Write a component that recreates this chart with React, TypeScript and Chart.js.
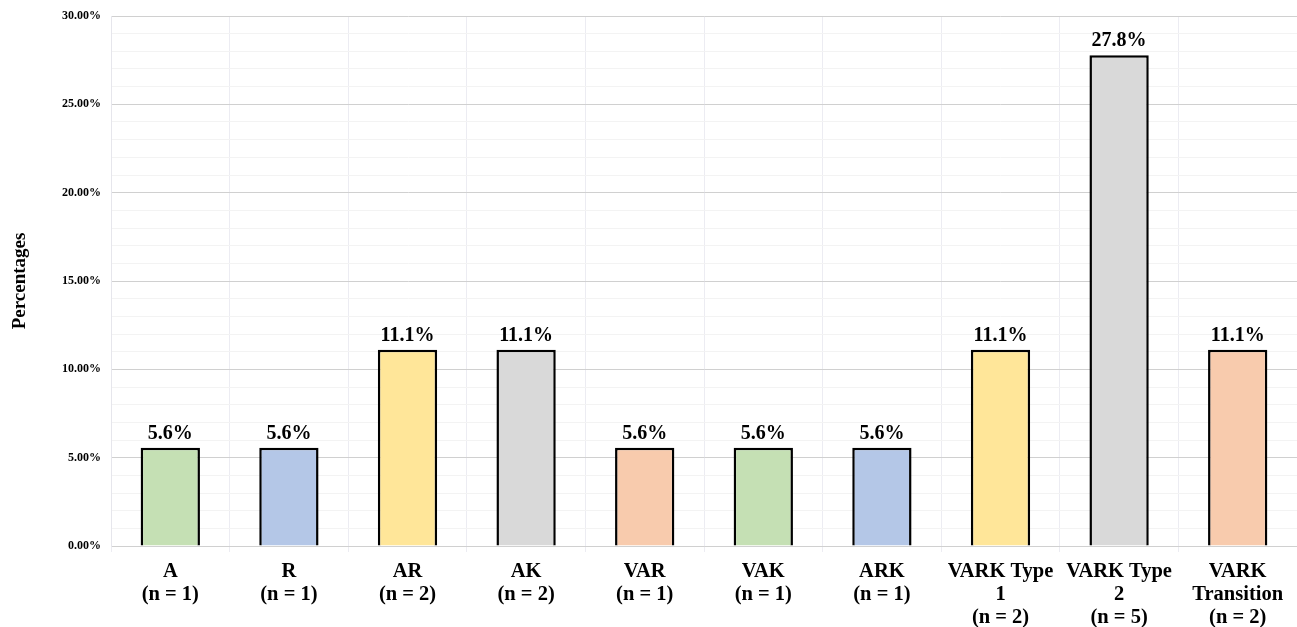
import React, { useEffect, useRef } from "react";
import { Chart, registerables } from "chart.js";

Chart.register(...registerables);

const categories: string[][] = [
  ["A", "(n = 1)"],
  ["R", "(n = 1)"],
  ["AR", "(n = 2)"],
  ["AK", "(n = 2)"],
  ["VAR", "(n = 1)"],
  ["VAK", "(n = 1)"],
  ["ARK", "(n = 1)"],
  ["VARK Type", "1", "(n = 2)"],
  ["VARK Type", "2", "(n = 5)"],
  ["VARK", "Transition", "(n = 2)"],
];
const values: number[] = [5.56, 5.56, 11.11, 11.11, 5.56, 5.56, 5.56, 11.11, 27.78, 11.11];
const barColors: string[] = [
  "#c5e0b4", "#b4c7e7", "#ffe699", "#d9d9d9", "#f8cbad",
  "#c5e0b4", "#b4c7e7", "#ffe699", "#d9d9d9", "#f8cbad",
];
const yTitle = "Percentages";

const FONT = "'Liberation Serif', 'Times New Roman', serif";

const valueLabelPlugin = {
  id: "valueLabels",
  afterDatasetsDraw(chart: any) {
    const ctx = chart.ctx;
    const meta = chart.getDatasetMeta(0);
    ctx.save();
    ctx.font = `bold 20px ${FONT}`;
    ctx.fillStyle = "#000";
    ctx.textAlign = "center";
    ctx.textBaseline = "bottom";
    meta.data.forEach((el: any, i: number) => {
      ctx.fillText(values[i].toFixed(1) + "%", el.x, el.y - 4);
    });
    ctx.restore();
  },
};

export default function App() {
  const ref = useRef<HTMLCanvasElement>(null);
  useEffect(() => {
    if (!ref.current) return;
    const chart = new Chart(ref.current, {
      type: "bar",
      data: {
        labels: categories,
        datasets: [
          {
            data: values,
            backgroundColor: barColors,
            borderColor: "#000",
            borderWidth: 2.5,
            categoryPercentage: 1,
            barPercentage: 0.5,
          },
        ],
      },
      options: {
        animation: false,
        responsive: true,
        maintainAspectRatio: false,
        layout: { padding: { top: 8, right: 0, left: 0, bottom: 0 } },
        plugins: { legend: { display: false }, tooltip: { enabled: false } },
        scales: {
          x: {
            grid: { color: "#ececf2", tickLength: 6, offset: true },
            border: { color: "#d0d0d0" },
            ticks: {
              color: "#000",
              font: { family: FONT, size: 20.5, weight: "bold", lineHeight: 1.12 },
              padding: 8,
              maxRotation: 0,
              autoSkip: false,
            },
            afterFit(scale: any) {
              scale.height = 81;
            },
          },
          y: {
            min: 0,
            max: 30,
            grid: {
              drawTicks: false,
              color: (c: any) => (c.tick && c.tick.value % 5 === 0 ? "#d0d0d0" : "#f3f3f3"),
            },
            border: { color: "#e6e6ec" },
            ticks: {
              stepSize: 1,
              autoSkip: false,
              color: "#000",
              padding: 10,
              font: { family: FONT, size: 12, weight: "bold", lineHeight: 1 },
              callback: (v: any) => (Number(v) % 5 === 0 ? Number(v).toFixed(2) + "%" : ""),
            },
            title: {
              display: true,
              text: yTitle,
              color: "#000",
              font: { family: FONT, size: 19, weight: "bold" },
              padding: { top: 9, bottom: 10 },
            },
            afterFit(scale: any) {
              scale.width = 111;
            },
          },
        },
      },
      plugins: [valueLabelPlugin],
    } as any);
    return () => chart.destroy();
  }, []);
  return (
    <div style={{ position: "fixed", left: 0, top: 0, width: 1297, height: 627, background: "#fff" }}>
      <canvas ref={ref} />
    </div>
  );
}
